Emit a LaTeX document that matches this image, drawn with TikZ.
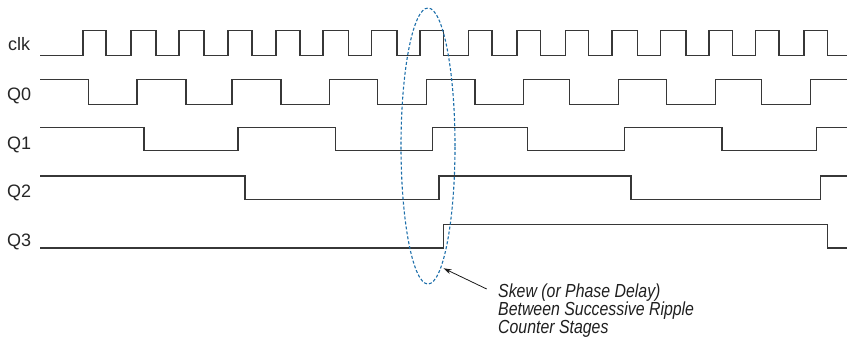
\documentclass[tikz,border=0pt]{standalone}
\usepackage{fontspec}
\setmainfont{Liberation Sans}
\newfontfamily\notefont[FakeStretch=0.84]{Liberation Sans}
\usetikzlibrary{arrows.meta}
\definecolor{skewblue}{RGB}{28,110,170}
\definecolor{wavegray}{RGB}{55,55,55}
\begin{document}
\begin{tikzpicture}[x=1bp,y=-1bp,
  wave/.style={draw=wavegray, line width=1.35bp, line join=miter},
  lbl/.style={anchor=base west, inner sep=0, text=black!85, font=\fontsize{18bp}{20bp}\selectfont},
  skewline/.style={draw=skewblue, line width=1.1bp, dash pattern=on 3bp off 2bp},
  note/.style={anchor=base west, align=left, inner sep=0, text=black!88,
    font=\notefont\itshape\fontsize{18.9bp}{18bp}\selectfont},
  pointer/.style={draw=black!90, line width=0.8bp, -{Stealth[length=8bp,width=5bp]}}]
\useasboundingbox (0,0) rectangle (847,344);

% labels
\node[lbl] (lclk) at (8,50) {clk};
\node[lbl] (lq0) at (7,100) {Q0};
\node[lbl] (lq1) at (7,149) {Q1};
\node[lbl] (lq2) at (7,197.7) {Q2};
\node[lbl] (lq3) at (7,246.7) {Q3};

% clk
\draw[wave] (40,55.7)
  \foreach \r/\f in {83/106,131/156,179/204,228/252,276/300,323/348.7,371.7/397,420/443.3,
                     468.7/492,517/540.3,565.5/588.7,612/637.3,660.7/686,709/732.3,755.7/779,804/827.3}
  { -- (\r,55.7) -- (\r,30.7) -- (\f,30.7) -- (\f,55.7) } -- (847,55.7);

% Q0
\draw[wave] (40,79.3)
  \foreach \a/\b in {88.7/137,186/232,281/329.3,377.7/426.3,475/523.7,569.7/618.3,666.7/715.3,761.7/810.3}
  { -- (\a,79.3) -- (\a,104.3) -- (\b,104.3) -- (\b,79.3) } -- (847,79.3);

% Q1
\draw[wave] (40,127.7)
  \foreach \a/\b in {144/238,335.7/432.7,527.7/624.7,722/816.7}
  { -- (\a,127.7) -- (\a,150.7) -- (\b,150.7) -- (\b,127.7) } -- (847,127.7);

% Q2
\draw[wave] (40,176)
  \foreach \a/\b in {245/439,631/820.7}
  { -- (\a,176) -- (\a,199.3) -- (\b,199.3) -- (\b,176) } -- (847,176);

% Q3
\draw[wave] (40,248) -- (443.3,248) -- (443.3,224.3) -- (827.3,224.3) -- (827.3,248) -- (847,248);

% skew ellipse
\draw[skewline] (428,146) ellipse [x radius=27bp, y radius=138bp];

% annotation (base anchor = baseline of last line)
\node[note] (note) at (498,333.3) {Skew (or Phase Delay)\\Between Successive Ripple\\Counter Stages};
\coordinate (tail) at (486.7,289);
\coordinate (tip) at (443.5,268.3);
\draw[pointer] (tail) -- (tip);
\end{tikzpicture}
\end{document}
